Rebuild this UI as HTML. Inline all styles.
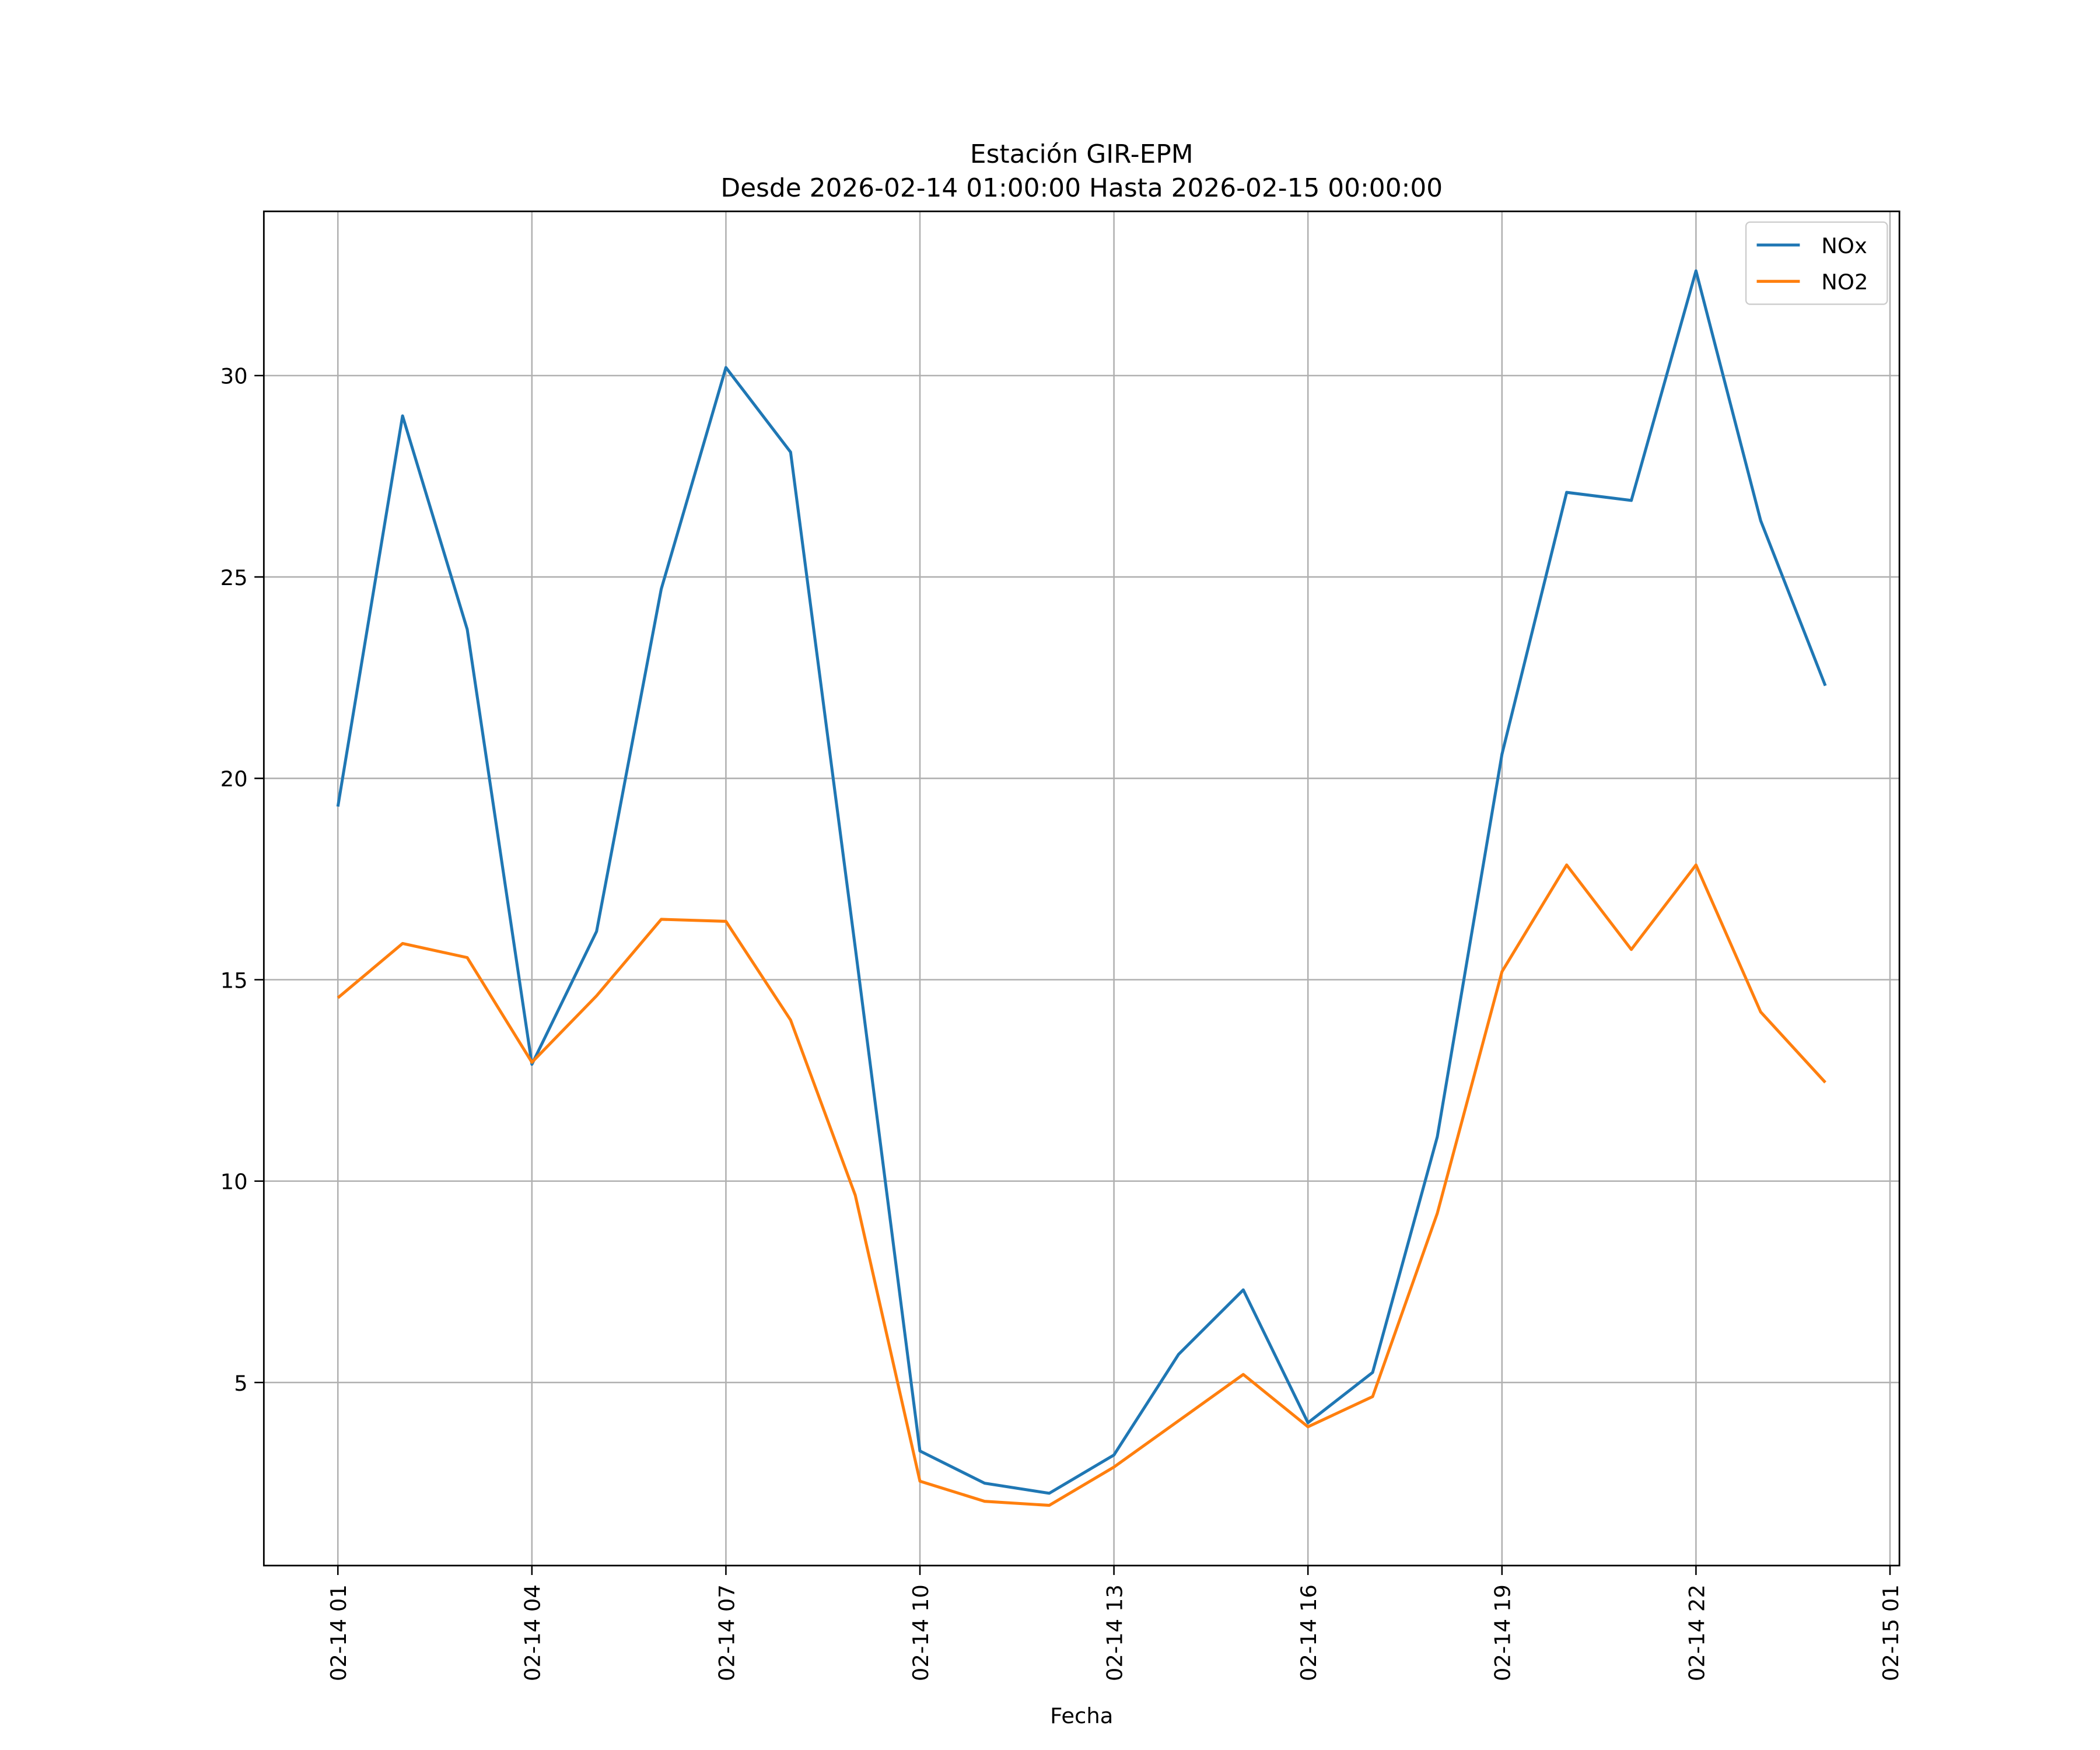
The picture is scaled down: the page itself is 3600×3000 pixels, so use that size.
<!DOCTYPE html>
<html><head><meta charset="utf-8"><style>html,body{margin:0;padding:0;background:#fff}svg{display:block}text{font-family:"DejaVu Sans","Liberation Sans",sans-serif;fill:#000}</style></head>
<body>
<svg id="chart" width="3600" height="3000" viewBox="0 0 1560 1300" xmlns="http://www.w3.org/2000/svg">
<rect width="1560" height="1300" fill="#fff"/>
<text x="803.5" y="121" font-size="19" text-anchor="middle">Estación GIR-EPM</text>
<text x="803.5" y="146" font-size="19" text-anchor="middle">Desde 2026-02-14 01:00:00 Hasta 2026-02-15 00:00:00</text>
<g id="grid"></g>
<g id="series"></g>
<rect x="196" y="157" width="1215" height="1006" fill="none" stroke="#000" stroke-width="1.2"/>
<g id="axes"></g>
<text x="803.5" y="1280" font-size="16" text-anchor="middle">Fecha</text>
<g>
<rect x="1297" y="165" width="105" height="61" fill="#fff" fill-opacity="0.8" stroke="#ccc" rx="3"/>
<g><line x1="1305" y1="182" x2="1337" y2="182" stroke="#1f77b4" stroke-width="2.2"/><text x="1353" y="188" font-size="16">NOx</text></g>
<g><line x1="1305" y1="209" x2="1337" y2="209" stroke="#ff7f0e" stroke-width="2.2"/><text x="1353" y="215" font-size="16">NO2</text></g>
</g>
</svg>
<script>
const hours = [1,2,3,4,5,6,7,8,9,10,11,12,13,14,15,16,17,18,19,20,21,22,23,24];
const noxValues = [19.3,29.0,23.7,12.9,16.2,24.7,30.2,28.1,15.8,3.3,2.5,2.25,3.2,5.7,7.3,4.0,5.25,11.1,20.6,27.1,26.9,32.6,26.4,22.3];
const no2Values = [14.55,15.9,15.55,12.95,14.6,16.5,16.45,14.0,9.65,2.55,2.05,1.95,2.9,4.05,5.2,3.9,4.65,9.2,15.2,17.85,15.75,17.85,14.2,12.45];
const xTickHours = [1,4,7,10,13,16,19,22,25];
const xTickLabels = ["02-14 01","02-14 04","02-14 07","02-14 10","02-14 13","02-14 16","02-14 19","02-14 22","02-15 01"];
const yTicks = [5,10,15,20,25,30];
const NS = "http://www.w3.org/2000/svg";
const x = h => 251 + (h-1)*(1404-251)/24;
const y = v => 1176.6 - v*(1176.6-279)/30;
function mk(tag, attrs, parent){const e=document.createElementNS(NS,tag);for(const k in attrs)e.setAttribute(k,attrs[k]);parent.appendChild(e);return e;}
const grid=document.getElementById('grid'), axes=document.getElementById('axes'), series=document.getElementById('series');
xTickHours.forEach((h,i)=>{
  const gx=x(h);
  if(gx<1411){const gl=mk('line',{x1:gx,y1:157,x2:gx,y2:1163,stroke:'#b0b0b0','stroke-width':1.1},grid);
  
  }
  const t=mk('line',{x1:gx,y1:1163,x2:gx,y2:1170,stroke:'#000','stroke-width':1.1},axes);
  
  
  const tx=mk('text',{x:0,y:0,'font-size':16,'text-anchor':'end',transform:`translate(${gx+6},1177) rotate(-90)`},axes);
  tx.textContent=xTickLabels[i];
  
  
});
yTicks.forEach(v=>{
  const gy=y(v);
  const gl=mk('line',{x1:196,y1:gy,x2:1411,y2:gy,stroke:'#b0b0b0','stroke-width':1.1},grid);
  
  
  const t=mk('line',{x1:189,y1:gy,x2:196,y2:gy,stroke:'#000','stroke-width':1.1},axes);
  
  
  const tx=mk('text',{x:184,y:gy+6,'font-size':16,'text-anchor':'end'},axes);
  tx.textContent=String(v);
  
  
});
function line(vals,color,name){
  const p=mk('polyline',{points:vals.map((v,i)=>x(hours[i])+','+y(v)).join(' '),fill:'none',stroke:color,'stroke-width':2.2,'stroke-linejoin':'round'},series);
  
  
}
line(noxValues,'#1f77b4','nox-line');
line(no2Values,'#ff7f0e','no2-line');
</script>
</body></html>
